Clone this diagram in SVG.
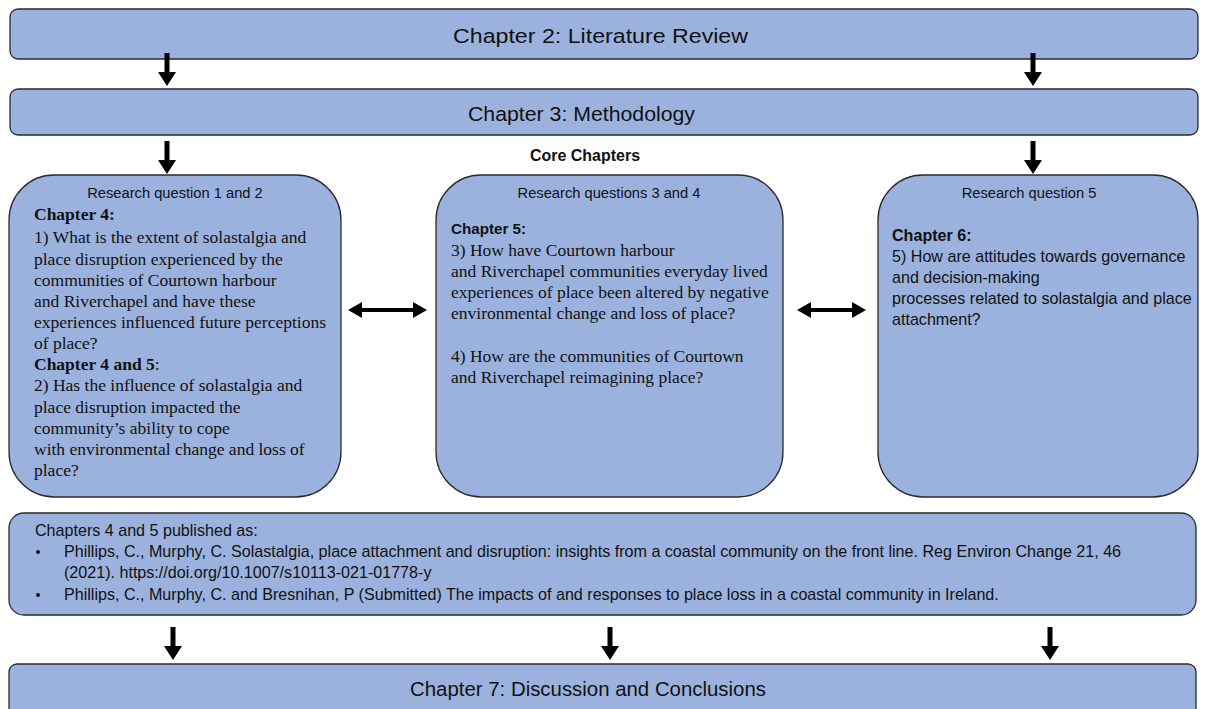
<svg xmlns="http://www.w3.org/2000/svg" width="1205" height="709" viewBox="0 0 1205 709">
<defs>
<style>
.box{fill:#9bb2de;stroke:#2b2b2b;stroke-width:1.3}
.sans{font-family:"Liberation Sans",Arial,sans-serif;fill:#111}
.serif{font-family:"Liberation Serif","Times New Roman",serif;fill:#111;font-size:17.5px}
.title{font-size:20.5px}
.hdr{font-size:14.7px}
.cite{font-size:16.1px}
.b{font-weight:bold}
.arr{fill:#000}
</style>
<path id="down" class="arr" d="M-2.5,0 H2.5 V19 H9 L0,33 L-9,19 H-2.5 Z"/>
</defs>
<g id="lit-review">
<rect class="box" x="10" y="9" width="1188" height="50" rx="8"/>
<text class="sans title" x="453" y="43" textLength="295" lengthAdjust="spacingAndGlyphs">Chapter 2: Literature Review</text>
</g>
<g id="methodology">
<rect class="box" x="10" y="89" width="1188" height="46" rx="8"/>
<text class="sans title" x="468" y="121" textLength="227" lengthAdjust="spacingAndGlyphs">Chapter 3: Methodology</text>
</g>
<text class="sans b" x="585" y="161" text-anchor="middle" font-size="16">Core Chapters</text>
<g id="rq12">
<rect class="box" x="9" y="175" width="332" height="322" rx="45"/>
<text class="sans hdr" x="175" y="198" text-anchor="middle">Research question 1 and 2</text>
<text class="serif"><tspan x="34" y="220" class="b">Chapter 4:</tspan><tspan x="34" y="243">1) What is the extent of solastalgia and</tspan><tspan x="34" y="265">place disruption experienced by the</tspan><tspan x="34" y="286">communities of Courtown harbour</tspan><tspan x="34" y="307">and Riverchapel and have these</tspan><tspan x="34" y="328">experiences influenced future perceptions</tspan><tspan x="34" y="349">of place?</tspan><tspan x="34" y="370"><tspan class="b">Chapter 4 and 5</tspan>:</tspan><tspan x="34" y="391">2) Has the influence of solastalgia and</tspan><tspan x="34" y="413">place disruption impacted the</tspan><tspan x="34" y="434">community’s ability to cope</tspan><tspan x="34" y="455">with environmental change and loss of</tspan><tspan x="34" y="476">place?</tspan></text>
</g>
<g id="rq34">
<rect class="box" x="436" y="175" width="347" height="322" rx="45"/>
<text class="sans hdr" x="609" y="198" text-anchor="middle">Research questions 3 and 4</text>
<text class="sans b" x="451" y="234" font-size="15.2">Chapter 5:</text>
<text class="serif"><tspan x="451" y="256">3) How have Courtown harbour</tspan><tspan x="451" y="277">and Riverchapel communities everyday lived</tspan><tspan x="451" y="298">experiences of place been altered by negative</tspan><tspan x="451" y="319">environmental change and loss of place?</tspan><tspan x="451" y="362">4) How are the communities of Courtown</tspan><tspan x="451" y="383">and Riverchapel reimagining place?</tspan></text>
</g>
<g id="rq5">
<rect class="box" x="878" y="175" width="320" height="322" rx="45"/>
<text class="sans hdr" x="1029" y="198" text-anchor="middle">Research question 5</text>
<text class="sans" font-size="16.1"><tspan x="892" y="241" class="b">Chapter 6:</tspan><tspan x="892" y="262">5) How are attitudes towards governance</tspan><tspan x="892" y="283">and decision-making</tspan><tspan x="892" y="304">processes related to solastalgia and place</tspan><tspan x="892" y="325">attachment?</tspan></text>
</g>
<g id="published">
<rect class="box" x="9" y="513" width="1187" height="102" rx="15"/>
<text class="sans cite"><tspan x="35" y="536">Chapters 4 and 5 published as:</tspan><tspan x="64" y="557">Phillips, C., Murphy, C. Solastalgia, place attachment and disruption: insights from a coastal community on the front line. Reg Environ Change 21, 46</tspan><tspan x="64" y="578">(2021). https://doi.org/10.1007/s10113-021-01778-y</tspan><tspan x="64" y="600">Phillips, C., Murphy, C. and Bresnihan, P (Submitted) The impacts of and responses to place loss in a coastal community in Ireland.</tspan></text>
<circle cx="38" cy="552" r="2" fill="#111"/>
<circle cx="38" cy="595" r="2" fill="#111"/>
</g>
<g id="discussion">
<rect class="box" x="9" y="664" width="1187" height="52" rx="8"/>
<text class="sans title" x="410" y="696" textLength="356" lengthAdjust="spacingAndGlyphs">Chapter 7: Discussion and Conclusions</text>
</g>
<g id="connectors">
<use href="#down" x="167" y="53"/>
<use href="#down" x="1033" y="53"/>
<use href="#down" x="167" y="141"/>
<use href="#down" x="1033" y="141"/>
<use href="#down" x="173" y="627"/>
<use href="#down" x="610" y="627"/>
<use href="#down" x="1050" y="627"/>
<path class="arr" d="M348,310 L362,302 V308 H413 V302 L427,310 L413,318 V312 H362 V318 Z"/>
<path class="arr" d="M797,310 L811,302 V308 H852 V302 L866,310 L852,318 V312 H811 V318 Z"/>
</g>
</svg>
